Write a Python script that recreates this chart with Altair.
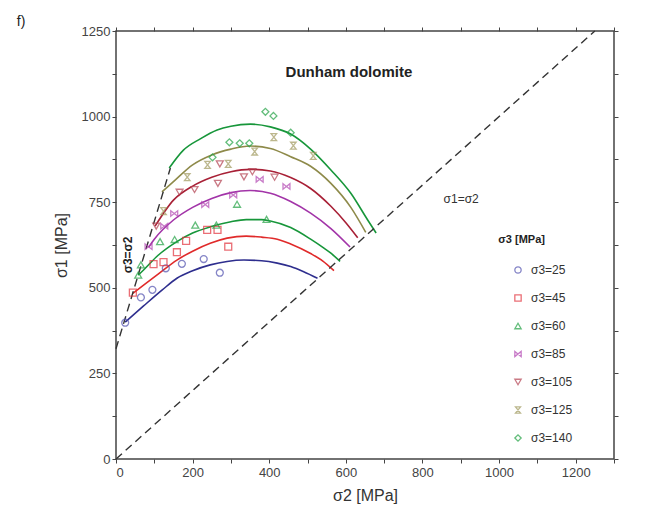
import altair as alt
import pandas as pd

# ---------------- data ----------------
series = ["σ3=25", "σ3=45", "σ3=60", "σ3=85", "σ3=105", "σ3=125", "σ3=140"]
line_colors = ["#2e2e8e", "#e02a2a", "#17963a", "#a234a8", "#a82036", "#8e8a4a", "#17963a"]
point_colors = ["#5252b0", "#e2323c", "#22a244", "#b244b2", "#b44252", "#a09a5e", "#22a244"]
BOWTIE = "M-1,-0.8L1,0.8L1,-0.8L-1,0.8Z"
HOURGLASS = "M-0.8,-1L0.8,-1L-0.8,1L0.8,1Z"
shapes = ["circle", "square", "triangle-up", BOWTIE, "triangle-down", HOURGLASS, "diamond"]

# measured points (sigma2, sigma1)
p25_x = [24, 65, 95, 130, 172, 229, 271]
p25_y = [398, 472, 494, 557, 570, 584, 544]
p45_x = [44, 98, 124, 159, 183, 238, 265, 293]
p45_y = [486, 569, 575, 604, 637, 669, 669, 620]
p60_x = [58, 65, 115, 153, 207, 262, 316, 393]
p60_y = [537, 567, 635, 641, 683, 683, 744, 700]
p85_x = [85, 126, 152, 233, 306, 375, 445]
p85_y = [620, 680, 717, 743, 771, 817, 796]
p105_x = [105, 166, 205, 266, 271, 334, 356, 414]
p105_y = [680, 779, 787, 805, 862, 824, 839, 823]
p125_x = [124, 186, 239, 293, 362, 412, 463, 515]
p125_y = [724, 823, 859, 862, 898, 940, 915, 885]
p140_x = [252, 296, 323, 348, 390, 411, 456]
p140_y = [881, 925, 922, 922, 1014, 1002, 953]

# criterion curves (sigma2, sigma1)
c25_x = [24, 72, 120, 159, 200, 246, 290, 334, 380, 421, 456, 490, 526]
c25_y = [400, 447, 493, 528, 550, 567, 577, 581, 579, 572, 562, 547, 528]
c45_x = [44, 72, 110, 159, 200, 246, 290, 340, 380, 421, 456, 508, 540, 569]
c45_y = [484, 508, 540, 581, 607, 630, 645, 651, 648, 642, 628, 600, 578, 550]
c60_x = [58, 72, 110, 159, 200, 246, 300, 340, 380, 403, 456, 508, 540, 561, 585]
c60_y = [537, 552, 595, 635, 660, 678, 693, 699, 699, 695, 676, 642, 618, 601, 577]
c85_x = [85, 100, 150, 200, 250, 300, 350, 403, 456, 508, 561, 611]
c85_y = [618, 642, 698, 735, 761, 778, 784, 776, 752, 718, 673, 619]
c105_x = [102, 150, 200, 250, 300, 350, 403, 456, 508, 561, 600, 631]
c105_y = [680, 756, 797, 823, 839, 846, 841, 822, 790, 738, 690, 646]
c125_x = [120, 150, 200, 250, 300, 350, 403, 456, 508, 561, 613, 652]
c125_y = [780, 810, 859, 888, 905, 914, 907, 883, 855, 805, 735, 662]
c140_x = [139, 176, 220, 264, 300, 351, 403, 456, 508, 561, 613, 657, 679]
c140_y = [850, 902, 935, 961, 972, 978, 970, 949, 905, 844, 776, 698, 660]

diag_x = [0, 1250]
diag_y = [0, 1250]
s3line_x = [0, 142]
s3line_y = [322, 850]

x_ticks = list(range(0, 1301, 100))
y_ticks = list(range(0, 1251, 125))

# ---------------- tables ----------------
pts = []
for name, xs_, ys_ in zip(series,
                          [p25_x, p45_x, p60_x, p85_x, p105_x, p125_x, p140_x],
                          [p25_y, p45_y, p60_y, p85_y, p105_y, p125_y, p140_y]):
    for a, b in zip(xs_, ys_):
        pts.append({"s2": a, "s1": b, "series": name})
pts = pd.DataFrame(pts)

curve_xs = [c25_x, c45_x, c60_x, c85_x, c105_x, c125_x, c140_x]
curve_ys = [c25_y, c45_y, c60_y, c85_y, c105_y, c125_y, c140_y]

diag = pd.DataFrame({"s2": diag_x, "s1": diag_y})
s3l = pd.DataFrame({"s2": s3line_x, "s1": s3line_y})

FONT = "Liberation Sans"
xs = alt.Scale(domain=[0, 1300], nice=False, zero=False)
ys = alt.Scale(domain=[0, 1250], nice=False, zero=False)

x_main = alt.X("s2:Q", scale=xs, title="σ2 [MPa]",
               axis=alt.Axis(values=x_ticks, format="d",
                             labelExpr="datum.value % 200 === 0 ? datum.label : ''",
                             tickSize=4, grid=False, domain=False, labelPadding=3,
                             titlePadding=8))
y_main = alt.Y("s1:Q", scale=ys, title="σ1 [MPa]",
               axis=alt.Axis(values=y_ticks, format="d",
                             labelExpr="datum.value % 250 === 0 ? datum.label : ''",
                             tickSize=4, grid=False, domain=False, labelPadding=2,
                             titlePadding=12))

layers = []
for k, (cx, cy, col) in enumerate(zip(curve_xs, curve_ys, line_colors)):
    df = pd.DataFrame({"s2": cx, "s1": cy, "i": list(range(len(cx)))})
    if k == 0:
        enc = dict(x=x_main, y=y_main)
    else:
        enc = dict(x=alt.X("s2:Q", scale=xs, axis=None), y=alt.Y("s1:Q", scale=ys, axis=None))
    layers.append(alt.Chart(df).mark_line(strokeWidth=1.6, color=col, interpolate="monotone")
                  .encode(order="i:Q", **enc))

diag_layer = alt.Chart(diag).mark_line(strokeDash=[8, 5], color="#333333", strokeWidth=1.4).encode(
    x=alt.X("s2:Q", scale=xs, axis=alt.Axis(orient="top", values=x_ticks, labels=False,
                                            title=None, tickSize=4, grid=False, domain=False)),
    y=alt.Y("s1:Q", scale=ys, axis=alt.Axis(orient="right", values=y_ticks, labels=False,
                                            title=None, tickSize=4, grid=False, domain=False)),
)
layers.append(diag_layer)

s3_layer = alt.Chart(s3l).mark_line(strokeDash=[8, 5], color="#333333", strokeWidth=1.4).encode(
    x=alt.X("s2:Q", scale=xs, axis=None),
    y=alt.Y("s1:Q", scale=ys, axis=None),
)
layers.append(s3_layer)

leg = alt.Legend(title=None, orient="none", legendX=396, legendY=233,
                 labelFontSize=12, labelFont=FONT, labelColor="#333333",
                 rowPadding=16, labelOffset=7, symbolSize=40,
                 symbolStrokeWidth=1.3, symbolFillColor="transparent", padding=0)

points = alt.Chart(pts).mark_point(filled=False, strokeWidth=1.3, size=48).encode(
    x=alt.X("s2:Q", scale=xs, axis=None),
    y=alt.Y("s1:Q", scale=ys, axis=None),
    color=alt.Color("series:N", scale=alt.Scale(domain=series, range=point_colors), legend=leg),
    shape=alt.Shape("series:N", scale=alt.Scale(domain=series, range=shapes), legend=leg),
)
layers.append(points)

ann = pd.DataFrame({
    "s2": [608, 901, 998, 31, -259],
    "s1": [1130, 759, 640, 596, 1276],
    "txt": ["Dunham dolomite", "σ1=σ2", "σ3 [MPa]", "σ3=σ2", "f)"],
})

def text_layer(row, **kw):
    return alt.Chart(ann.iloc[[row]]).mark_text(font=FONT, **kw).encode(
        x=alt.X("s2:Q", scale=xs, axis=None),
        y=alt.Y("s1:Q", scale=ys, axis=None),
        text="txt:N",
    )

layers += [
    text_layer(0, fontSize=15, fontWeight="bold", color="#222222"),
    text_layer(1, fontSize=12, color="#333333"),
    text_layer(2, fontSize=11, fontWeight="bold", color="#222222", align="left"),
    text_layer(3, fontSize=12, fontWeight="bold", color="#222222", angle=270),
    text_layer(4, fontSize=14, color="#222222", align="left"),
]

chart = alt.layer(*layers).resolve_axis(
    x="independent", y="independent"
).properties(
    width=498, height=428,
    autosize=alt.AutoSizeParams(type="none"),
    padding={"left": 116, "top": 31, "right": 33, "bottom": 60},
    background="white",
).configure_view(
    stroke="#444444", strokeWidth=1.5
).configure_axis(
    labelFont=FONT, titleFont=FONT, labelFontSize=13, titleFontSize=16,
    labelColor="#444444", titleColor="#333333", tickColor="#444444",
    titleFontWeight="normal",
)

chart.save("out.html", embed_options={"renderer": "svg", "actions": False})
